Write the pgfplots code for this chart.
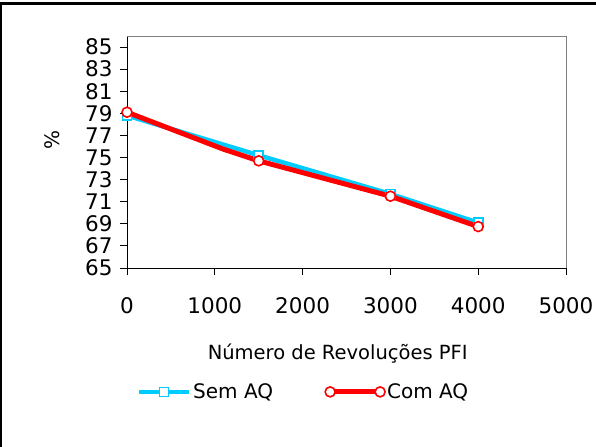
\documentclass[border=0pt]{standalone}
\usepackage{pgfplots}
\pgfplotsset{compat=1.18}
\usepackage{fontspec}
\setmainfont{DejaVu Sans}
\definecolor{skyblue}{HTML}{00CCFF}
\definecolor{plotred}{HTML}{FF0000}
\newcommand\tickfont{\fontsize{21.5bp}{24bp}\selectfont}
\newcommand\chartfont{\fontsize{20bp}{23bp}\selectfont}
\newcommand\labelfont{\fontsize{19.5bp}{23bp}\selectfont}

\begin{document}
\begin{tikzpicture}
\useasboundingbox (0,0) rectangle (596bp,447bp);
% outer frame (top and left edges)
\draw[line width=2.5bp] (0,443.5bp) -- (596bp,443.5bp);
\draw[line width=2bp] (1bp,0) -- (1bp,444bp);
\begin{axis}[
  at={(127bp,179bp)}, anchor=south west,
  scale only axis, width=439bp, height=232bp,
  xmin=0, xmax=5000, ymin=65, ymax=86,
  xtick={0,1000,...,5000}, ytick={65,67,...,85},
  axis lines=left, axis line style={-, black, line width=0.9bp},
  tick align=outside, major tick length=7bp,
  tick style={black, line width=0.9bp},
  /pgf/number format/assume math mode=true,
  scaled x ticks=false,
  xticklabel style={/pgf/number format/1000 sep={}, yshift=-19bp},
  yticklabel style={xshift=-4bp},
  tick label style={font=\tickfont},
  xlabel={Número de Revoluções PFI},
  xlabel style={font=\labelfont, at={(rel axis cs:0.48,0)}, anchor=center, yshift=-86bp},
  ylabel={\%},
  ylabel style={font=\chartfont, at={(rel axis cs:0,0.55)}, anchor=center, yshift=75bp},
  legend columns=2,
  legend style={draw=none, font=\chartfont, at={(rel axis cs:0.402,-0.534)}, anchor=center,
    /tikz/every even column/.append style={column sep=50bp}},
  legend image code/.code={\draw[mark repeat=2, mark phase=2] plot coordinates {(0bp,0bp) (25bp,0bp) (50bp,0bp)};},
  clip=false,
]
\draw[gray, line width=0.9bp] (rel axis cs:0,1) -- (rel axis cs:1,1);
\draw[gray, line width=0.9bp] (rel axis cs:1,1) -- (rel axis cs:1,0);

\addplot[skyblue, line width=4.5bp, mark=square*, mark size=4.5bp,
  mark options={fill=white, draw=skyblue, line width=1.6bp}]
  coordinates {(0,78.8) (1500,75.2) (3000,71.7) (4000,69.1)};
\addlegendentry{Sem AQ}

\addplot[plotred, line width=5bp, mark=*, mark size=5bp, mark indices={1,3,4,5},
  mark options={fill=white, draw=plotred, line width=1.6bp}]
  coordinates {(0,79.1) (1100,75.75) (1500,74.7) (3000,71.5) (4000,68.75)};
\addlegendentry{Com AQ}
\end{axis}
\end{tikzpicture}
\end{document}
